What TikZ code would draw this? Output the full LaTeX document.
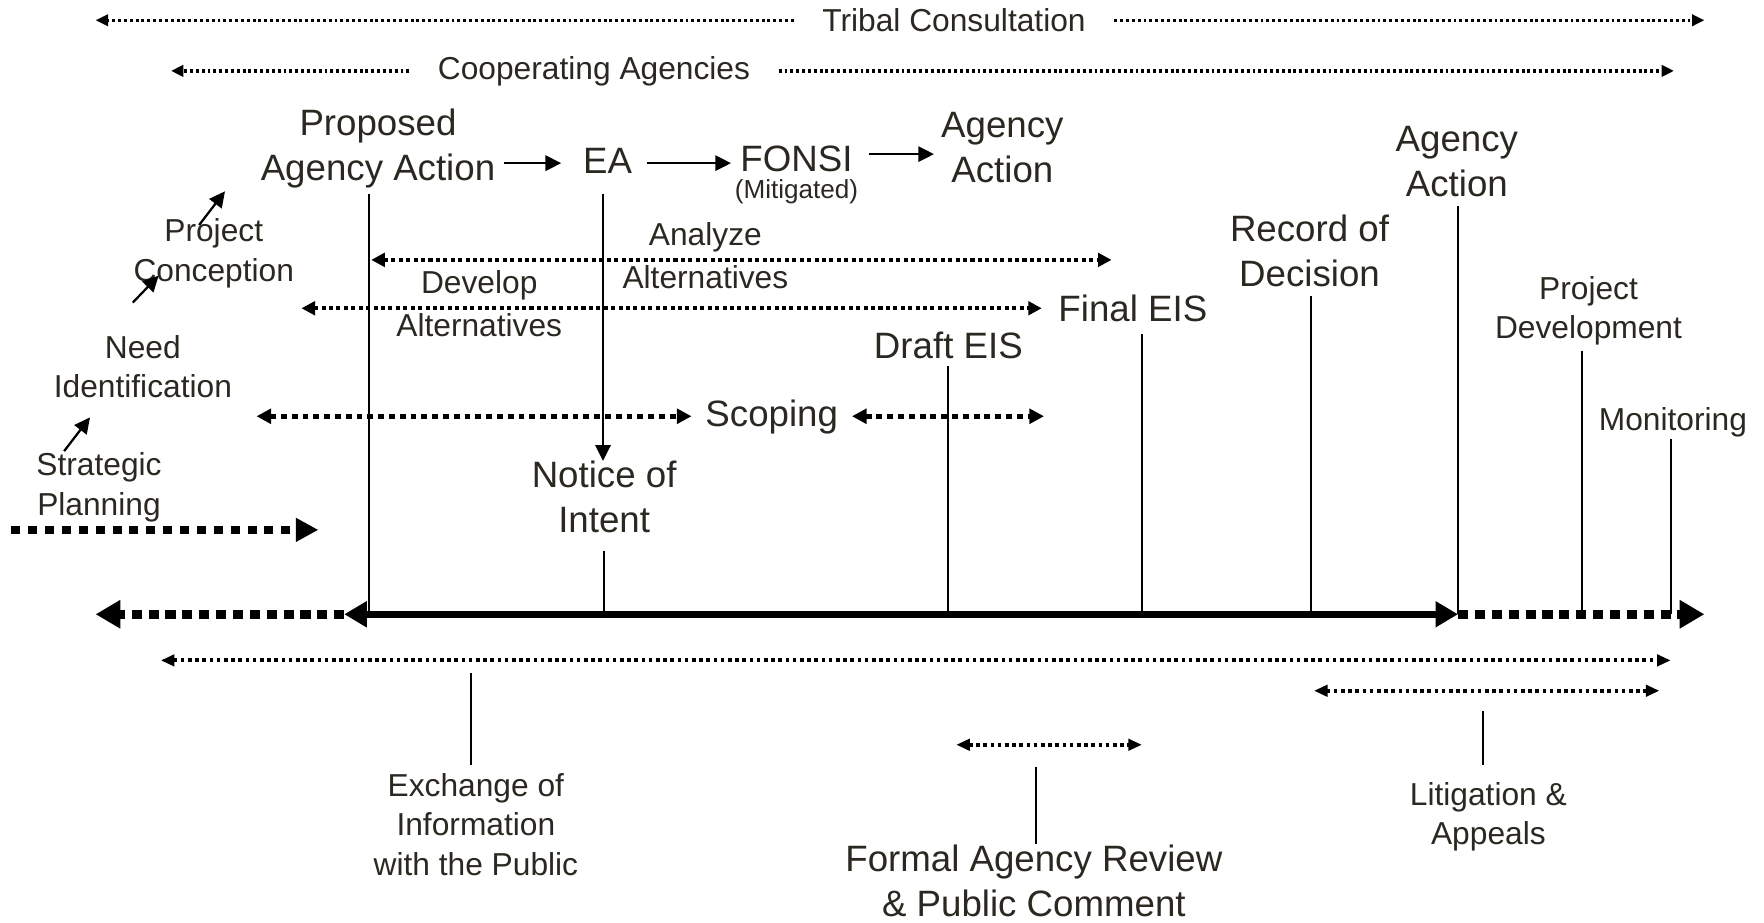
\documentclass[tikz,border=0pt]{standalone}
\usepackage{fontspec}
\setmainfont{Liberation Sans}
\usetikzlibrary{arrows.meta}
\definecolor{txt}{RGB}{42,40,32}
\begin{document}
\begin{tikzpicture}[x=0.5pt,y=-0.5pt,
  lbl/.style={text=txt, align=center, inner sep=0pt},
  big/.style={lbl, font=\fontsize{16.3}{20}\selectfont},
  mid/.style={lbl, font=\fontsize{14.1}{17.5}\selectfont},
  midw/.style={lbl, font=\fontsize{14.1}{19}\selectfont},
  small/.style={lbl, font=\fontsize{11.6}{14}\selectfont},
  solarr/.style={line width=1pt, -{Triangle[length=7pt,width=6.8pt]}},
  drop/.style={line width=0.8pt},
  finedot/.style={line width=1.45pt, dash pattern=on 1.3pt off 1.3pt, >={Triangle[length=5.5pt,width=5pt]}},
  lowdot/.style={line width=1.7pt, dash pattern=on 1.6pt off 1.6pt, >={Triangle[length=6pt,width=5pt]}},
  meddot/.style={line width=1.8pt, dash pattern=on 1.8pt off 1.5pt, >={Triangle[length=6pt,width=6pt]}},
  scopedot/.style={line width=2.4pt, dash pattern=on 2.6pt off 2.2pt, >={Triangle[length=6.5pt,width=6.5pt]}},
  stratdot/.style={line width=3.5pt, dash pattern=on 4pt off 3.5pt, >={Triangle[length=10pt,width=10pt]}},
  tldot/.style={line width=4pt, dash pattern=on 4.5pt off 3pt, >={Triangle[length=11pt,width=12pt]}},
  tlsolid/.style={line width=3pt, >={Triangle[length=10pt,width=11pt]}}
]
\useasboundingbox (0,0) rectangle (1568,820);

% ---- top consultation bands
\node[mid, inner xsep=12.5pt] (tribal) at (848,18) {Tribal Consultation};
\coordinate (tribL) at (85,18);
\coordinate (tribR) at (1515,18);
\draw[finedot,->] (tribal.west) -- (tribL);
\draw[finedot,->] (tribal.east) -- (tribR);

\node[mid, inner xsep=12.5pt] (coop) at (528,63) {Cooperating Agencies};
\coordinate (coopL) at (152,63);
\coordinate (coopR) at (1488,63);
\draw[finedot,->] (coop.west) -- (coopL);
\draw[finedot,->] (coop.east) -- (coopR);

% ---- EA branch
\node[big] (pa) at (336,132) {Proposed\\Agency Action};
\node[big] (ea) at (540,143) {EA};
\node[big] (fonsi) at (708,141) {FONSI};
\node[small] (mitig) at (708,170) {(Mitigated)};
\node[big] (aa1) at (891,131) {Agency\\Action};

\draw[solarr, shorten <=3.5pt, shorten >=9.5pt] (pa.east |- 0,145) -- (ea.west |- 0,145);
\draw[solarr, shorten <=6.5pt, shorten >=4pt] (ea.east |- 0,145) -- (fonsi.west |- 0,145);
\draw[solarr, shorten <=7pt, shorten >=3pt] (fonsi.east |- 0,137) -- (aa1.west |- 0,137);

% ---- planning chain
\node[mid] (pc) at (190,225) {Project\\Conception};
\node[mid] (ni) at (127,326) {Need\\Identification};
\node[mid] (sp) at (88,433) {Strategic\\Planning};
\coordinate (pcA) at (177,200);
\coordinate (pcB) at (200,170);
\draw[solarr] (pcA) -- (pcB);
\coordinate (niA) at (118,269);
\coordinate (niB) at (141,245);
\draw[solarr] (niA) -- (niB);
\coordinate (spA) at (57,401);
\coordinate (spB) at (80,371);
\draw[solarr] (spA) -- (spB);
\coordinate (stratL) at (10,471);
\coordinate (stratR) at (283,471);
\draw[stratdot,->] (stratL) -- (stratR);

% ---- alternatives
\node[midw] (an) at (627,227) {Analyze\\Alternatives};
\coordinate (anL) at (330,231);
\coordinate (anR) at (988,231);
\draw[meddot,<->] (anL) -- (anR);
\node[midw] (dv) at (426,270) {Develop\\Alternatives};
\coordinate (dvL) at (268,274);
\coordinate (dvR) at (926,274);
\draw[meddot,<->] (dvL) -- (dvR);

% ---- notice of intent and scoping
\node[big] (noi) at (537,442) {Notice of\\Intent};
\coordinate (eaDown) at (536,172);
\draw[solarr] (eaDown) -- (noi.north -| eaDown);
\node[big, inner xsep=6pt] (sc) at (686,371) {Scoping};
\coordinate (scL) at (228,370);
\coordinate (scR) at (928,370);
\draw[scopedot,<->] (scL) -- (sc.west |- scL);
\draw[scopedot,<->] (sc.east |- scR) -- (scR);

% ---- EIS milestones
\node[big] (deis) at (843,307) {Draft EIS};
\node[big] (feis) at (1007,274) {Final EIS};
\node[big] (rod) at (1164,223) {Record of\\Decision};
\node[big] (aa2) at (1295,144) {Agency\\Action};
\node[mid] (pd) at (1412,276) {Project\\Development};
\node[mid] (mon) at (1487,375) {Monitoring};

% ---- time line
\coordinate (tlL) at (85,546);
\coordinate (tlA) at (306,546);
\coordinate (tlB) at (1296,546);
\coordinate (tlR) at (1515,546);
\draw[tldot,->] (tlA) -- (tlL);
\draw[tldot,->] (tlB) -- (tlR);
\draw[tlsolid,<->] (tlA) -- (tlB);

% ---- drop lines to the time line
\coordinate (paTop) at (328,172);
\draw[drop] (paTop) -- (paTop |- tlA);
\coordinate (noiBot) at (537,490);
\draw[drop] (noiBot) -- (noiBot |- tlA);
\coordinate (deisBot) at (843,325);
\draw[drop] (deisBot) -- (deisBot |- tlA);
\coordinate (feisBot) at (1015,297);
\draw[drop] (feisBot) -- (feisBot |- tlA);
\coordinate (rodBot) at (1165,263);
\draw[drop] (rodBot) -- (rodBot |- tlA);
\coordinate (aa2Bot) at (1296,183);
\draw[drop] (aa2Bot) -- (aa2Bot |- tlA);
\coordinate (pdBot) at (1406,312);
\draw[drop] (pdBot) -- (pdBot |- tlA);
\coordinate (monBot) at (1485,390);
\draw[drop] (monBot) -- (monBot |- tlA);

% ---- lower bands
\coordinate (exL) at (143,587);
\coordinate (exR) at (1485,587);
\draw[lowdot,<->] (exL) -- (exR);
\node[mid] (ex) at (423,733) {Exchange of\\Information\\with the Public};
\coordinate (exTop) at (419,598);
\draw[drop] (exTop) -- (exTop |- 0,680);

\coordinate (frL) at (850,662);
\coordinate (frR) at (1015,662);
\draw[lowdot,<->] (frL) -- (frR);
\node[big] (far) at (919,783) {Formal Agency Review\\\& Public Comment};
\coordinate (frTop) at (921,682);
\draw[drop] (frTop) -- (frTop |- 0,750);

\coordinate (ltL) at (1168,614);
\coordinate (ltR) at (1475,614);
\draw[lowdot,<->] (ltL) -- (ltR);
\node[mid] (lit) at (1323,726) {Litigation \&\\Appeals};
\coordinate (ltTop) at (1318,632);
\draw[drop] (ltTop) -- (ltTop |- 0,680);
\end{tikzpicture}
\end{document}
